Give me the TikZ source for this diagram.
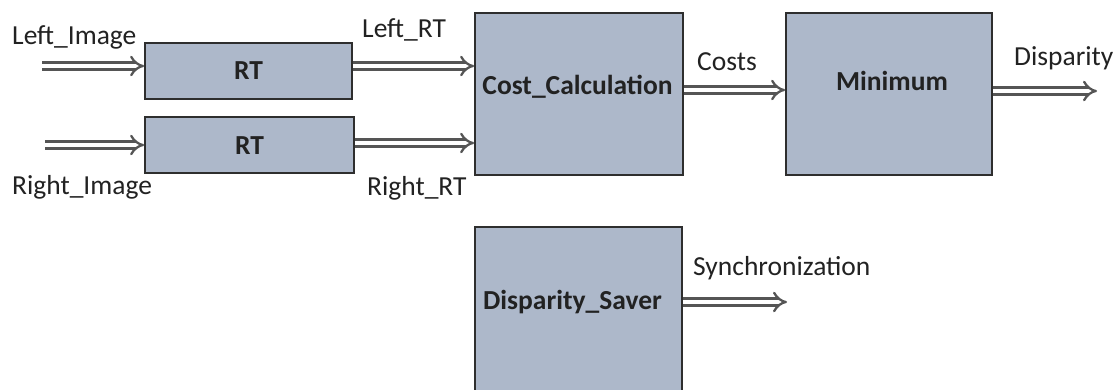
\documentclass[tikz,border=0pt]{standalone}
\usepackage{fontspec}
\setmainfont{Carlito}
\usetikzlibrary{arrows.meta}
\definecolor{boxfill}{HTML}{ADB8CA}
\definecolor{boxline}{HTML}{2E2E2E}
\definecolor{arrline}{HTML}{555555}
\definecolor{txt}{HTML}{222222}
\begin{document}
\begin{tikzpicture}[x=1pt,y=-1pt,
  blk/.style={draw=boxline,fill=boxfill,line width=1.8pt,inner sep=0pt},
  dbl/.style={draw=arrline,line width=2.3pt,double=white,double distance=4.6pt,-{Implies[length=7pt,width=19pt]}},
  lbl/.style={inner sep=0pt,text=txt,font=\fontsize{27.5}{32}\selectfont},
  blbl/.style={inner sep=0pt,text=txt,font=\fontsize{27.5}{32}\selectfont\bfseries}]
\useasboundingbox[fill=white] (0,0) rectangle (1117,389);
\begin{scope}
\clip (0,0) rectangle (1117,389);
% blocks
\node[blk,minimum width=207pt,minimum height=56pt] (rt1) at (248.5,71) {};
\node[blk,minimum width=209pt,minimum height=56pt] (rt2) at (249.5,145) {};
\node[blk,minimum width=208pt,minimum height=162pt] (cost) at (579,94) {};
\node[blk,minimum width=206pt,minimum height=162pt] (min) at (889,94) {};
\node[blk,minimum width=207pt,minimum height=170pt] (saver) at (578.5,312) {};
% block texts
\node[blbl,anchor=base] (trt1) at (248.5,79) {RT};
\node[blbl,anchor=base] (trt2) at (249.5,154) {RT};
\node[blbl,anchor=base] (tcost) at (577.5,94) {Cost\_Calculation};
\node[blbl,anchor=base] (tmin) at (892,90) {Minimum};
\node[blbl,anchor=base] (tsaver) at (572.5,309) {Disparity\_Saver};
% free ends
\coordinate (in1) at (42,66);
\coordinate (in2) at (45,145);
\coordinate (disp) at (1097,91);
\coordinate (sync) at (787,302);
% connectors
\draw[dbl] (in1) -- (in1 -| rt1.west);
\draw[dbl] (in2) -- (in2 -| rt2.west);
\draw[dbl] (rt1.east |- in1) -- (cost.west |- in1);
\draw[dbl] (rt2.east |- 0,143) -- (cost.west |- 0,143);
\draw[dbl] (cost.east |- 0,90) -- (min.west |- 0,90);
\draw[dbl] (min.east |- disp) -- (disp);
\draw[dbl] (saver.east |- sync) -- (sync);
% labels
\node[lbl,anchor=base west] (lleft) at (12,44) {Left\_Image};
\node[lbl,anchor=base west] (lright) at (12,194) {Right\_Image};
\node[lbl,anchor=base west] (lleftrt) at (362,37) {Left\_RT};
\node[lbl,anchor=base west] (lrightrt) at (367,195) {Right\_RT};
\node[lbl,anchor=base west] (lcosts) at (697,70) {Costs};
\node[lbl,anchor=base west] (ldisp) at (1014,65) {Disparity};
\node[lbl,anchor=base west] (lsync) at (693,275) {Synchronization};
\end{scope}
\end{tikzpicture}
\end{document}
